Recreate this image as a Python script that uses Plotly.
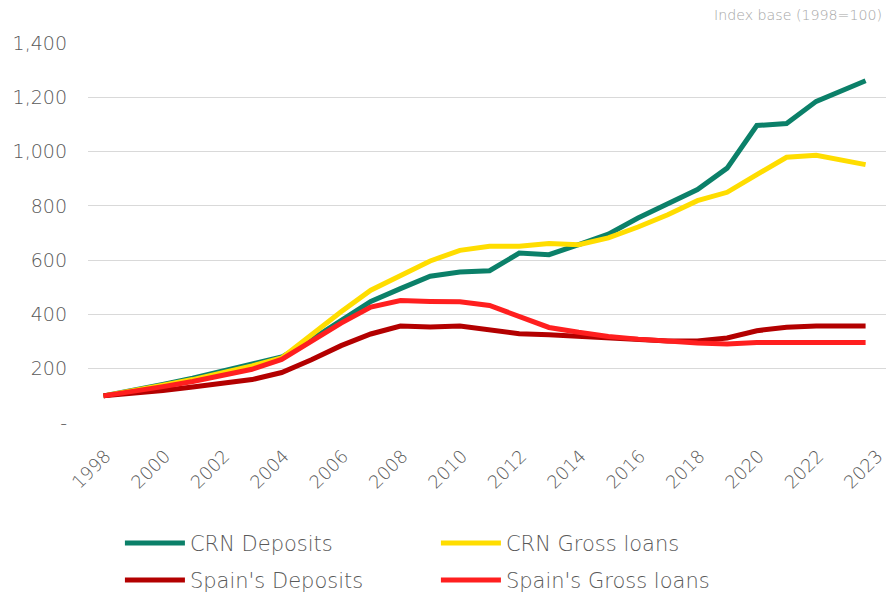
import plotly.graph_objects as go

# ---- data (index, 1998 = 100) ----
years = [str(y) for y in range(1998, 2024)]
# observation dates: year starts, latest observation during 2023
periods = [f"{y}-01-01" for y in range(1998, 2023)] + ["2023-08-31"]

crn_deposits = [100, 120, 142, 165, 192, 216, 243, 307, 380, 448, 495, 541, 556,
                561, 626, 620, 657, 696, 755, 808, 860, 939, 1096, 1103, 1185, 1261]
crn_loans = [100, 118, 139, 160, 185, 210, 240, 326, 410, 489, 544, 597, 636,
             651, 651, 661, 657, 682, 722, 767, 819, 850, 915, 979, 986, 952]
spain_deposits = [100, 108, 120, 133, 147, 160, 186, 233, 285, 328, 357, 354, 357,
                  342, 329, 325, 319, 312, 306, 302, 302, 313, 340, 353, 357, 357]
spain_loans = [100, 116, 134, 153, 176, 198, 234, 300, 368, 427, 451, 448, 447,
               433, 393, 352, 334, 319, 309, 301, 295, 291, 297, 297, 297, 297]

tick_labels = ["1998", "2000", "2002", "2004", "2006", "2008", "2010", "2012",
               "2014", "2016", "2018", "2020", "2022", "2023"]
tick_dates = [f"{y}-01-01" for y in range(1998, 2023, 2)] + ["2024-01-01"]

y_ticks = [0, 200, 400, 600, 800, 1000, 1200, 1400]
y_tick_labels = ["-", "200", "400", "600", "800", "1,000", "1,200", "1,400"]

series = [
    ("CRN Deposits", crn_deposits, "#0B8069", "legend"),
    ("CRN Gross loans", crn_loans, "#FFDD00", "legend"),
    ("Spain's Deposits", spain_deposits, "#B30000", "legend2"),
    ("Spain's Gross loans", spain_loans, "#FF1F1F", "legend2"),
]

FONT = "DejaVu Sans"
GREY = "#595959"

fig = go.Figure()
for name, vals, color, lg in series:
    fig.add_trace(go.Scatter(
        x=periods, y=vals, name=name, mode="lines",
        line=dict(color=color, width=5),
        legend=lg,
    ))

legend_common = dict(
    orientation="h", xanchor="left", yanchor="middle",
    font=dict(family=FONT, size=21, color=GREY, weight=300),
    entrywidth=241, entrywidthmode="pixels", itemwidth=60,
    bgcolor="rgba(0,0,0,0)", traceorder="normal",
)

fig.update_layout(
    width=886, height=592,
    margin=dict(l=88, r=0, t=43, b=169, autoexpand=False),
    paper_bgcolor="white", plot_bgcolor="white",
    font=dict(family=FONT, color=GREY),
    showlegend=True,
    legend=dict(x=0.04, y=-0.317, **legend_common),
    legend2=dict(x=0.04, y=-0.414, **legend_common),
    annotations=[dict(
        text="Index base (1998=100)", xref="paper", yref="paper",
        x=0.998, y=1.0745, xanchor="right", yanchor="middle", showarrow=False,
        font=dict(family=FONT, size=14.2, color="#A6A6A6", weight=300),
    )],
)

fig.update_xaxes(
    type="date", range=["1997-06-24", "2024-05-08"],
    tickvals=tick_dates, ticktext=tick_labels, tickangle=-45,
    tickfont=dict(family=FONT, size=18, color=GREY, weight=300),
    showgrid=False, showline=False, zeroline=False, ticks="",
    ticklabelstandoff=18, ticklabelshift=2, ticklabeloverflow="allow",
)
fig.update_yaxes(
    range=[0, 1400], tickvals=y_ticks, ticktext=y_tick_labels,
    tickfont=dict(family=FONT, size=19, color=GREY, weight=300),
    showgrid=True, gridcolor="#D9D9D9", gridwidth=1,
    zeroline=False, showline=False, ticks="",
    ticklabelstandoff=20,
)

fig.write_html("out.html", config={"displayModeBar": False},
               post_script="document.body.style.margin='0';")
